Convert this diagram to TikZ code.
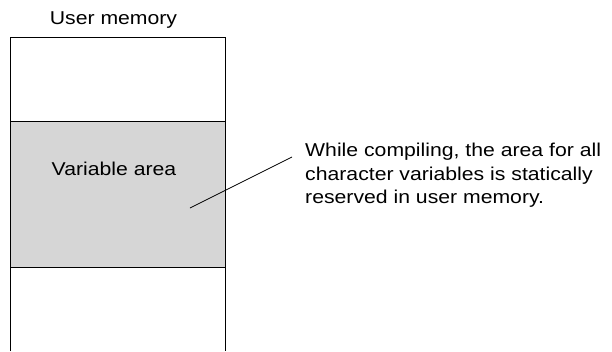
\documentclass[tikz,border=0pt]{standalone}
\usepackage{fontspec}
\setmainfont{Liberation Sans}
\usetikzlibrary{positioning}
\definecolor{areagray}{RGB}{214,214,214}
\begin{document}
\begin{tikzpicture}[x=1bp,y=-1bp]
\tikzset{caption/.style = {font=\fontsize{18.6bp}{23.3bp}\selectfont, inner sep=0pt, xscale=1.14, transform shape},
  frame/.style = {line width=0.9bp}}
\useasboundingbox (0,0) rectangle (612,351);
% memory block
\fill[areagray] (10.5,121) rectangle (225.5,267);
\draw[frame] (10.5,351) -- (10.5,37) -- (225.5,37) -- (225.5,351);
\draw[frame] (10.5,121) -- (225.5,121);
\draw[frame] (10.5,267) -- (225.5,267);
% texts
\node[caption, anchor=base] (title) at (113.5,24.3) {User memory};
\node[caption, anchor=base] (vararea) at (114,175) {Variable area};
\node[caption, anchor=base west, align=left] (note) at (305,203.3) {While compiling, the area for all\\character variables is statically\\reserved in user memory.};
% leader
\coordinate (inarea) at (190,208);
\coordinate (tonote) at (292,157);
\draw[line width=0.7bp] (inarea) -- (tonote);
\end{tikzpicture}
\end{document}
